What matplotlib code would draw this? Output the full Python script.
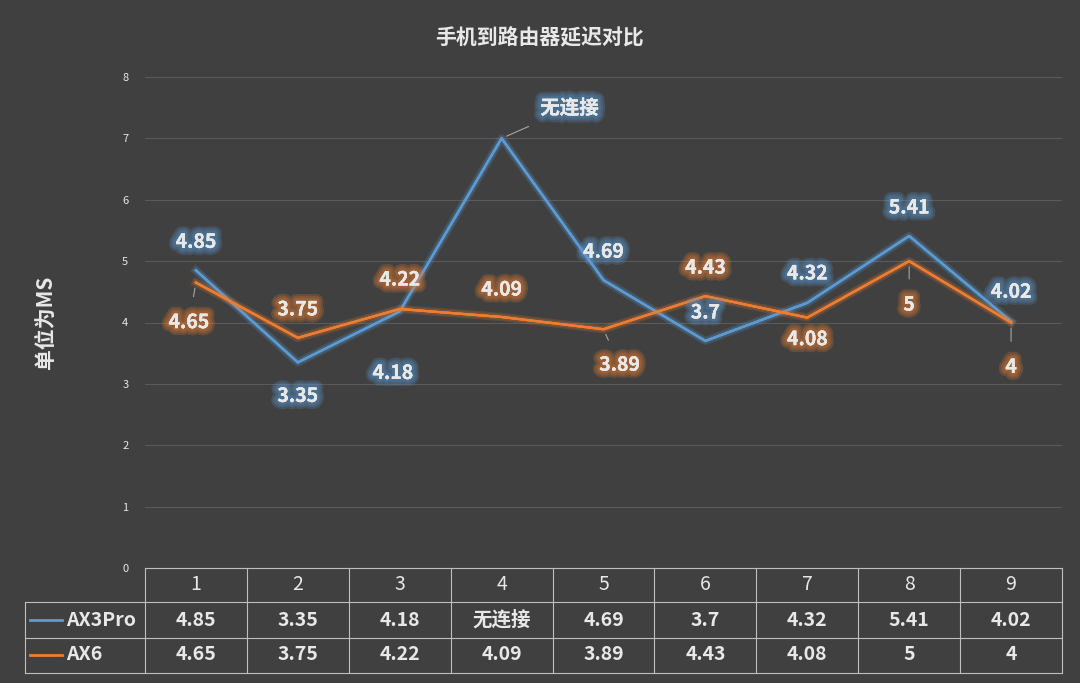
import matplotlib
matplotlib.use("Agg")
import matplotlib.pyplot as plt
import matplotlib.patheffects as pe
from matplotlib.lines import Line2D

plt.rcParams['font.family'] = ['Noto Sans CJK SC', 'DejaVu Sans']

cats = ['1', '2', '3', '4', '5', '6', '7', '8', '9']
ax3pro = [4.85, 3.35, 4.18, 7.0, 4.69, 3.7, 4.32, 5.41, 4.02]
ax3pro_lbl = ['4.85', '3.35', '4.18', '无连接', '4.69', '3.7', '4.32', '5.41', '4.02']
ax6 = [4.65, 3.75, 4.22, 4.09, 3.89, 4.43, 4.08, 5, 4]
ax6_lbl = ['4.65', '3.75', '4.22', '4.09', '3.89', '4.43', '4.08', '5', '4']
series_names = ['AX3Pro', 'AX6']

BG = '#404040'; BLUE = '#5B9BD5'; ORANGE = '#ED7D31'; TXT = '#E8E8E8'; GRID = '#5A5A5A'
W, H = 1080, 683
fig = plt.figure(figsize=(10.8, 6.83), dpi=100, facecolor=BG)
L, R, T, B = 145, 1062, 77, 568
ax = fig.add_axes([L / W, 1 - B / H, (R - L) / W, (B - T) / H], facecolor=BG)
x = list(range(len(cats)))
ax.set_xlim(-0.5, len(cats) - 0.5)
ax.set_ylim(0, 8)
ax.set_yticks(range(0, 9))
ax.tick_params(axis='y', colors=TXT, labelsize=8, length=0, pad=12)
ax.set_xticks([])
ax.grid(axis='y', color=GRID, lw=0.8)
for s in ax.spines.values():
    s.set_visible(False)

def glow(col, widths=(9, 6, 4), a=0.15):
    return [pe.withStroke(linewidth=w, foreground=col, alpha=a) for w in widths]

ax.plot(x, ax3pro, color=BLUE, lw=1.6, path_effects=glow(BLUE, (6, 4), 0.18) + [pe.Normal()])
ax.plot(x, ax6, color=ORANGE, lw=1.6, path_effects=glow(ORANGE, (6, 4), 0.18) + [pe.Normal()])

off_b = [(0, 28), (0, -34), (-7, -62), (68, 30), (0, 28), (0, 28), (0, 29), (0, 28), (0, 29)]
lead_b = [False, False, False, True, False, False, False, False, False]
off_o = [(-7, -40), (0, 28), (0, 29), (0, 27), (16, -36), (0, 28), (0, -22), (0, -44), (0, -45)]
lead_o = [True, False, False, False, True, False, False, True, True]

def label(vals, lbls, offs, leads, col):
    for i, (v, t, o, l) in enumerate(zip(vals, lbls, offs, leads)):
        ax.annotate(t, (i, v), xytext=o, textcoords='offset pixels', ha='center', va='center',
                    color=TXT, fontsize=14, fontweight='bold',
                    path_effects=glow(col, (10, 7, 4), 0.22) + [pe.Normal()],
                    arrowprops=dict(arrowstyle='-', color='#A6A6A6', lw=0.8, shrinkA=10, shrinkB=4) if l else None)

label(ax3pro, ax3pro_lbl, off_b, lead_b, BLUE)
label(ax6, ax6_lbl, off_o, lead_o, ORANGE)

fig.text(540 / W, 1 - 38 / H, '手机到路由器延迟对比', ha='center', va='center', color=TXT, fontsize=15, fontweight='bold')
fig.text(45 / W, 1 - 322 / H, '单位为MS', ha='center', va='center', rotation=90, color=TXT, fontsize=15, fontweight='bold')

rows = [568, 602, 638, 673]
lc = '#BFBFBF'
def hline(y, x0, x1):
    fig.add_artist(Line2D([x0 / W, x1 / W], [1 - y / H, 1 - y / H], color=lc, lw=0.8))
def vline(xx, y0, y1):
    fig.add_artist(Line2D([xx / W, xx / W], [1 - y0 / H, 1 - y1 / H], color=lc, lw=0.8))
hline(568, L, R)
for y in rows[1:]:
    hline(y, 25, R)
vline(25, 602, 673)
cw = (R - L) / len(cats)
for i in range(len(cats) + 1):
    vline(L + i * cw, 568, 673)
for i, c in enumerate(cats):
    cx = (L + (i + 0.5) * cw) / W
    fig.text(cx, 1 - 585 / H, c, ha='center', va='center', color=TXT, fontsize=14)
    fig.text(cx, 1 - 620 / H, ax3pro_lbl[i], ha='center', va='center', color=TXT, fontsize=14, fontweight='bold')
    fig.text(cx, 1 - 655 / H, ax6_lbl[i], ha='center', va='center', color=TXT, fontsize=14, fontweight='bold')
for name, col, y in [(series_names[0], BLUE, 620), (series_names[1], ORANGE, 655)]:
    fig.add_artist(Line2D([30 / W, 62 / W], [1 - y / H] * 2, color=col, lw=2))
    fig.text(66 / W, 1 - y / H, name, ha='left', va='center', color=TXT, fontsize=14, fontweight='bold')

fig.savefig('out.png', dpi=100, facecolor=BG)
